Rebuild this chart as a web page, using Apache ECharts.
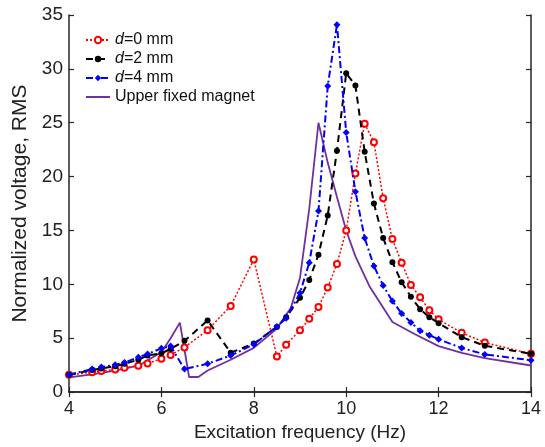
<!DOCTYPE html>
<html><head><meta charset="utf-8">
<script src="https://cdn.jsdelivr.net/npm/echarts@6/dist/echarts.min.js"></script>
<style>html,body{margin:0;padding:0;background:#fff}#c{width:545px;height:447px}</style>
</head><body><div id="c"></div>
<script>
const freq = [4, 4.5, 4.7, 5, 5.2, 5.5, 5.7, 6, 6.2, 6.5, 7, 7.5, 8, 8.5, 8.7, 9, 9.2, 9.4, 9.6, 9.8, 10, 10.2, 10.4, 10.6, 10.8, 11, 11.2, 11.4, 11.6, 11.8, 12, 12.5, 13, 14];
const d0 = [1.6, 1.85, 1.95, 2.1, 2.25, 2.45, 2.65, 3.1, 3.45, 4.15, 5.75, 8.0, 12.3, 3.3, 4.4, 5.75, 6.8, 7.9, 9.7, 11.9, 15.0, 20.3, 24.9, 23.2, 18.0, 14.2, 12.0, 9.95, 8.8, 7.6, 6.75, 5.5, 4.6, 3.55];
const d2 = [1.6, 2.05, 2.2, 2.4, 2.63, 3.0, 3.4, 3.6, 4.0, 4.76, 6.65, 3.66, 4.5, 6.05, 6.95, 8.75, 10.4, 12.75, 16.4, 22.4, 29.6, 28.45, 22.3, 17.5, 14.3, 12.05, 10.2, 8.85, 7.7, 6.95, 6.4, 5.1, 4.3, 3.55];
const d4 = [1.62, 2.14, 2.32, 2.53, 2.75, 3.24, 3.54, 4.06, 4.27, 2.14, 2.63, 3.39, 4.43, 6.1, 6.86, 9.2, 12.0, 16.8, 28.4, 34.1, 24.1, 18.6, 14.3, 11.7, 9.9, 8.45, 7.3, 6.47, 5.7, 5.28, 4.9, 4.1, 3.5, 2.96];
const magFreq = [4, 4.5, 5, 5.5, 6, 6.2, 6.4, 6.6, 6.8, 7, 7.5, 8, 8.5, 8.8, 9, 9.2, 9.4, 9.6, 9.8, 10, 10.2, 10.5, 11, 11.5, 12, 12.5, 13, 14];
const magnet = [1.37, 1.65, 2.0, 2.45, 3.7, 5.0, 6.45, 1.4, 1.4, 2.0, 3.0, 4.1, 5.9, 7.8, 10.6, 17.0, 25.0, 21.3, 18.1, 15.0, 12.6, 9.85, 6.5, 5.35, 4.27, 3.65, 3.15, 2.47];
const xTicks = [4, 6, 8, 10, 12, 14];
const yTicks = [0, 5, 10, 15, 20, 25, 30, 35];
const names = ['d=0 mm', 'd=2 mm', 'd=4 mm', 'Upper fixed magnet'];

const pair = (xs, ys) => xs.map((x, i) => [x, ys[i]]);
const chart = echarts.init(document.getElementById('c'));
const axisCol = '#262626';
const fontFam = 'Liberation Sans, Arial, sans-serif';
const baseX = {
  type: 'value', min: xTicks[0], max: xTicks[xTicks.length - 1], interval: 2,
  axisLine: { show: true, lineStyle: { color: axisCol, width: 1.5 } },
  axisTick: { show: true, inside: true, length: 5, lineStyle: { color: axisCol, width: 1.2 } },
  splitLine: { show: false }
};
const baseY = {
  type: 'value', min: yTicks[0], max: yTicks[yTicks.length - 1], interval: 5,
  axisLine: { show: true, lineStyle: { color: axisCol, width: 1.5 } },
  axisTick: { show: true, inside: true, length: 5, lineStyle: { color: axisCol, width: 1.2 } },
  splitLine: { show: false }
};
chart.setOption({
  animation: false,
  backgroundColor: '#fff',
  textStyle: { fontFamily: fontFam },
  grid: { left: 69, right: 14, top: 15, bottom: 49 },
  legend: {
    left: 80, top: 27, orient: 'vertical', itemGap: 3, itemWidth: 24, itemHeight: 8,
    data: [names[0], names[1], names[2], { name: names[3], itemStyle: { opacity: 0 } }],
    textStyle: { fontSize: 16, color: '#111', fontFamily: fontFam,
      rich: { i: { fontStyle: 'italic', fontSize: 16, color: '#111', fontFamily: fontFam } } },
    formatter: n => n.startsWith('d=') ? '{i|d}' + n.slice(1) : n
  },
  xAxis: [
    Object.assign({}, baseX, {
      position: 'bottom',
      name: 'Excitation frequency (Hz)', nameLocation: 'middle', nameGap: 21,
      nameTextStyle: { fontSize: 19, color: '#222', verticalAlign: 'top' },
      axisLabel: { fontSize: 18, color: '#222', margin: 8 }
    }),
    Object.assign({}, baseX, { position: 'top', axisLabel: { show: false } })
  ],
  yAxis: [
    Object.assign({}, baseY, {
      position: 'left',
      name: 'Normalized voltage, RMS', nameLocation: 'middle', nameGap: 34,
      nameTextStyle: { fontSize: 21, color: '#222' },
      axisLabel: { fontSize: 19, color: '#222', margin: 6 }
    }),
    Object.assign({}, baseY, { position: 'right', axisLabel: { show: false } })
  ],
  series: [
    { name: names[0], type: 'line', data: pair(freq, d0), symbol: 'circle', symbolSize: 6,
      itemStyle: { color: '#ffffff', borderColor: '#ff0000', borderWidth: 2 },
      lineStyle: { color: '#ff0000', width: 1.5, type: [2, 2] }, z: 3 },
    { name: names[1], type: 'line', data: pair(freq, d2), symbol: 'circle', symbolSize: 6,
      itemStyle: { color: '#000' }, lineStyle: { color: '#000', width: 2, type: [7, 5] }, z: 4 },
    { name: names[2], type: 'line', data: pair(freq, d4), symbol: 'diamond', symbolSize: 7,
      itemStyle: { color: '#0000ff' }, lineStyle: { color: '#0000ff', width: 2, type: [7, 3, 2, 3] }, z: 5 },
    { name: names[3], type: 'line', data: pair(magFreq, magnet), symbol: 'none', showSymbol: false,
      itemStyle: { color: '#7030a0' }, lineStyle: { color: '#7030a0', width: 1.8 }, z: 2 }
  ]
});
</script></body></html>
